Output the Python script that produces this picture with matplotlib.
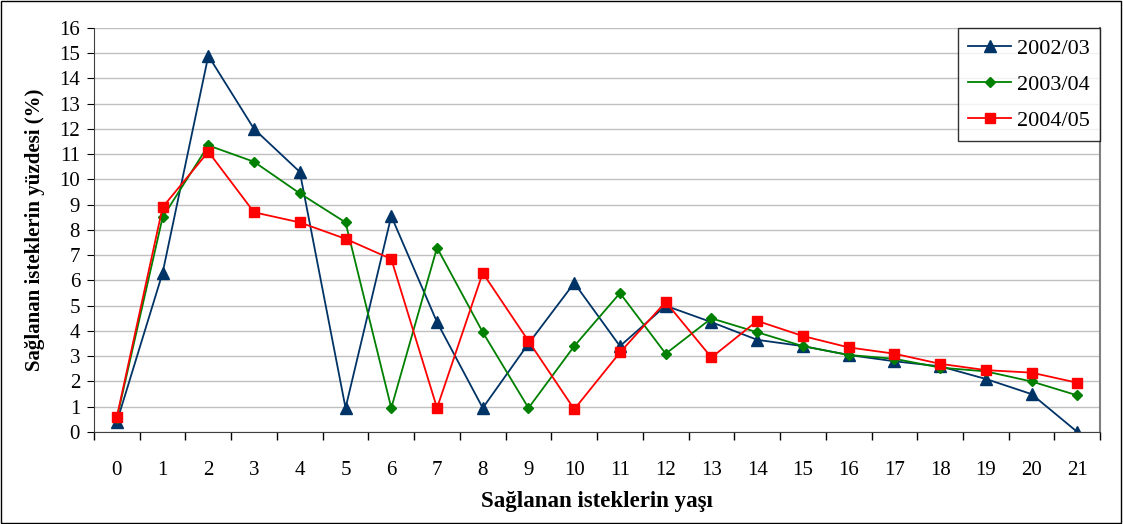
import matplotlib
matplotlib.use("Agg")
import matplotlib.pyplot as plt
from matplotlib.patches import Rectangle

ages = list(range(22))
s2002 = [0.4, 6.3, 14.9, 12.0, 10.3, 0.95, 8.55, 4.35, 0.95, 3.5, 5.9, 3.4,
         5.0, 4.35, 3.65, 3.4, 3.05, 2.8, 2.6, 2.1, 1.5, 0.0]
s2003 = [0.55, 8.5, 11.35, 10.7, 9.45, 8.3, 0.95, 7.3, 3.95, 0.95, 3.4, 5.5,
         3.1, 4.5, 3.95, 3.4, 3.05, 2.9, 2.55, 2.4, 2.0, 1.45]
s2004 = [0.6, 8.9, 11.1, 8.7, 8.3, 7.65, 6.85, 0.95, 6.3, 3.6, 0.9, 3.15,
         5.15, 2.95, 4.4, 3.8, 3.35, 3.1, 2.7, 2.45, 2.35, 1.95]
labels = ["2002/03", "2003/04", "2004/05"]

plt.rcParams['font.family'] = ['Liberation Serif', 'DejaVu Serif']

fig = plt.figure(figsize=(11.23, 5.24), dpi=100)
ax = fig.add_axes([0.0837, 0.1756, 0.896, 0.771])

ax.plot(ages, s2002, color='#003366', marker='^', markersize=8.5, lw=1.3, label=labels[0])
ax.plot(ages, s2003, color='#008000', marker='D', markersize=5.5, lw=1.3, label=labels[1])
ax.plot(ages, s2004, color='#ff0000', marker='s', markersize=7, lw=1.3, label=labels[2])

ax.set_xlim(-0.5, 21.5)
ax.set_ylim(0, 16)
ax.set_yticks(range(17))
ax.set_xticks(ages)
ax.set_xticks([i - 0.5 for i in range(23)], minor=True)
ax.tick_params(axis='x', which='major', length=0, pad=21, labelsize=15)
ax.tick_params(axis='x', which='minor', length=6, direction='out', width=1)
ax.tick_params(axis='y', length=5, direction='out', labelsize=15, pad=5)
ax.grid(axis='y', color='#c0c0c0', lw=1)
ax.set_axisbelow(True)
ax.spines['top'].set_visible(False)
ax.spines['right'].set_color('#808080')
ax.spines['right'].set_linewidth(1.5)
ax.spines['left'].set_color('#404040')
ax.spines['bottom'].set_color('#404040')

ax.set_xlabel('Sağlanan isteklerin yaşı', fontsize=16.5, fontweight='bold', labelpad=8)
ax.set_ylabel('Sağlanan isteklerin yüzdesi (%)', fontsize=15, fontweight='bold', labelpad=10)

leg = ax.legend(loc='upper right', fontsize=16, frameon=True, fancybox=False,
                edgecolor='black', borderpad=0.45, labelspacing=0.7, handlelength=1.9,
                handletextpad=0.3, borderaxespad=0, bbox_to_anchor=(1.0, 1.0))
leg.get_frame().set_linewidth(1)

fig.patches.append(Rectangle((0.001, 0.002), 0.997, 0.996, transform=fig.transFigure,
                             fill=False, edgecolor='black', lw=1))

fig.savefig('out.png', dpi=100)
